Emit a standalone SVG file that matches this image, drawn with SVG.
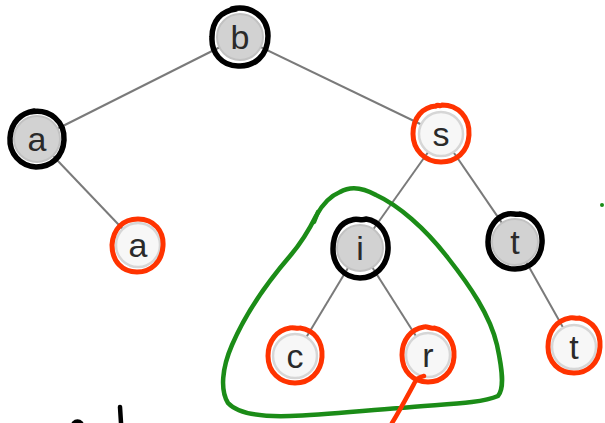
<svg xmlns="http://www.w3.org/2000/svg" width="605" height="423" viewBox="0 0 605 423">
  <defs>
    <filter id="soft" x="-30%" y="-30%" width="160%" height="160%">
      <feGaussianBlur stdDeviation="0.6"/>
    </filter>
  </defs>
  <style>
    .edge { stroke: #7a7a7a; stroke-width: 2; fill: none; filter: url(#soft); }
    .disc-dark { fill: #d2d2d2; stroke: #c2c2c2; stroke-width: 2; }
    .disc-light { fill: #f7f7f7; stroke: #d6d6d6; stroke-width: 2.5; filter: url(#soft); }
    .ring-black { fill: none; stroke: #000; stroke-width: 5.5; stroke-linecap: round; stroke-linejoin: round; }
    .ring-red { fill: none; stroke: #ff3300; stroke-width: 5; stroke-linecap: round; stroke-linejoin: round; }
    .label { font-family: "Liberation Sans", Arial, sans-serif; font-size: 34px; fill: #2a2a2a; text-anchor: middle; }
    .pen-green { fill: none; stroke: #1b8c17; stroke-width: 4.5; stroke-linecap: round; stroke-linejoin: round; }
    .pen-red { fill: none; stroke: #ff3300; stroke-width: 4.5; stroke-linecap: round; }
    .pen-black { fill: none; stroke: #000; stroke-width: 4.5; stroke-linecap: round; }
  </style>

  <!-- tree edges -->
  <g id="edges">
    <line class="edge" x1="240" y1="37" x2="37" y2="139"/>
    <line class="edge" x1="240" y1="37" x2="441" y2="134"/>
    <line class="edge" x1="37" y1="139" x2="138" y2="245"/>
    <line class="edge" x1="441" y1="134" x2="360" y2="248"/>
    <line class="edge" x1="441" y1="134" x2="515" y2="242"/>
    <line class="edge" x1="360" y1="248" x2="295" y2="356"/>
    <line class="edge" x1="360" y1="248" x2="428" y2="355"/>
    <line class="edge" x1="515" y1="242" x2="574" y2="347"/>
  </g>

  <g id="node-b">
    <circle class="disc-dark" cx="240" cy="37" r="23"/>
    <path class="ring-black" d="M232,9 C250,5 268,16 268,36 C268,56 254,67 238,66 C222,66 211,53 212,37 C212,21 221,11 236,9"/>
    <text class="label" x="240" y="49">b</text>
  </g>

  <g id="node-a">
    <circle class="disc-dark" cx="37" cy="139" r="23"/>
    <path class="ring-black" d="M30,112 C50,108 65,122 64,140 C63,157 51,167 36,167 C20,166 9,153 10,138 C11,122 21,113 34,111"/>
    <text class="label" x="37" y="151">a</text>
  </g>

  <g id="node-s">
    <circle class="disc-light" cx="441" cy="134" r="22"/>
    <path class="ring-red" d="M436,106 C438,104 440,107 442,105 C458,105 470,117 469,135 C468,152 456,162 441,162 C425,162 413,150 413,134 C413,117 423,107 436,106"/>
    <text class="label" x="441" y="146">s</text>
  </g>

  <g id="node-a2">
    <circle class="disc-light" cx="138" cy="245" r="22"/>
    <path class="ring-red" d="M138,219 C154,219 164,231 163,246 C162,262 151,272 137,272 C122,272 112,261 112,245 C113,229 123,219 138,219"/>
    <text class="label" x="138" y="257">a</text>
  </g>

  <g id="node-i">
    <circle class="disc-dark" cx="360" cy="248" r="23"/>
    <path class="ring-black" d="M352,220 C356,218 362,221 366,219 C380,221 389,234 388,250 C387,266 375,278 360,278 C344,278 333,265 333,249 C333,233 341,222 352,220"/>
    <text class="label" x="360" y="260">i</text>
  </g>

  <g id="node-t">
    <circle class="disc-dark" cx="515" cy="242" r="23"/>
    <path class="ring-black" d="M508,214 C512,213 516,215 520,214 C534,216 543,228 542,243 C541,259 530,269 515,269 C499,269 488,257 488,242 C488,227 497,216 508,214"/>
    <text class="label" x="515" y="254">t</text>
  </g>

  <g id="node-c">
    <circle class="disc-light" cx="295" cy="356" r="22"/>
    <path class="ring-red" d="M290,328 C293,327 297,329 300,328 C314,330 323,341 322,357 C321,372 310,383 295,383 C280,383 268,372 268,356 C268,341 277,330 290,328"/>
    <text class="label" x="295" y="368">c</text>
  </g>

  <g id="node-r">
    <circle class="disc-light" cx="428" cy="355" r="22"/>
    <path class="ring-red" d="M424,327 C427,326 431,329 434,328 C447,331 455,342 454,357 C453,372 442,382 428,382 C413,382 402,371 402,355 C402,340 411,329 424,327"/>
    <text class="label" x="428" y="367">r</text>
  </g>

  <g id="node-t2">
    <circle class="disc-light" cx="574" cy="347" r="22"/>
    <path class="ring-red" d="M570,318 C573,317 576,319 579,318 C593,321 601,332 600,347 C599,363 588,373 574,373 C559,373 548,362 548,347 C548,331 557,320 570,318"/>
    <text class="label" x="574" y="359">t</text>
  </g>

  <!-- pen annotations -->
  <g id="annotations">
    <path class="pen-green" d="M340,192 C350,186 362,187 376,195 C398,205 425,228 448,258 C470,286 490,315 497,345 C502,368 505,388 498,396 C480,404 440,404 400,408 C360,411 320,415 290,416 C260,417 238,414 228,403 C220,390 222,368 232,345 C245,315 265,285 290,256 C302,242 310,228 316,216 C322,205 330,196 340,192"/>
    <path class="pen-green" d="M318,212 L314,222"/>
    <circle cx="602" cy="205" r="2" fill="#1b8c17"/>
    <path class="pen-red" d="M424,376 C420,377 417,378 415,382 C408,395 400,410 392,423"/>
    <path class="pen-black" d="M120,407 L121,423"/>
    <path class="pen-black" d="M74,423 C76,421 79,421 81,423"/>
  </g>
</svg>
